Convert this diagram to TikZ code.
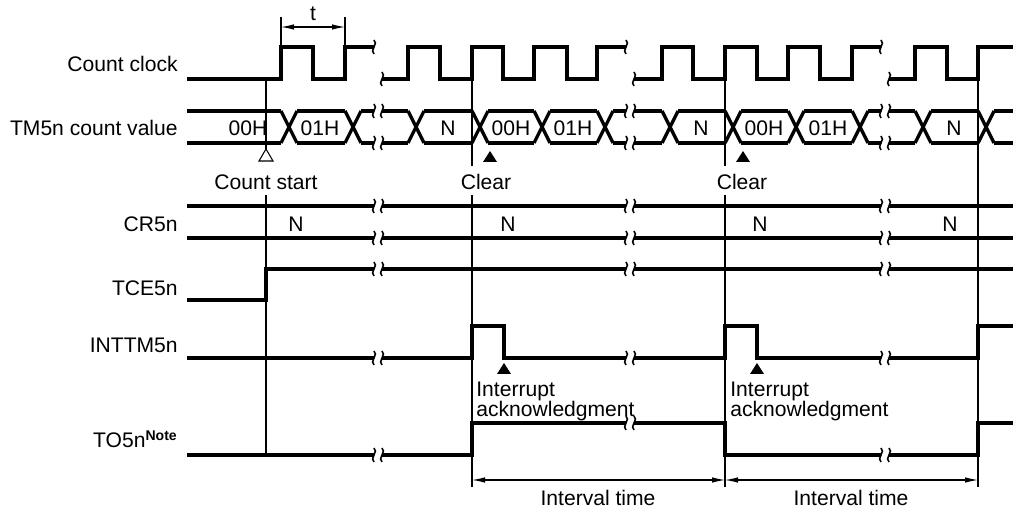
\documentclass[tikz,border=0pt]{standalone}
\usepackage{fontspec}
\setmainfont{Liberation Sans}
\usetikzlibrary{arrows.meta}
% small wavy break marks
\newcommand{\squig}[2]{\draw[wave] (#1,#2-7) .. controls (#1+5,#2-4) and (#1-5,#2+4) .. (#1,#2+7);}
\newcommand{\brk}[2]{\fill[white] (#1-4,#2-3) rectangle (#1+4,#2+3); \squig{#1-4}{#2} \squig{#1+4}{#2}}

\begin{document}
\begin{tikzpicture}[x=0.02cm,y=-0.02cm,>={Latex[length=2.6mm,width=1.1mm]},font=\fontsize{12}{14}\selectfont]
  \tikzstyle{sig}=[line width=1.9pt]
  \tikzstyle{guide}=[line width=0.6pt]
  \tikzstyle{wave}=[line width=0.9pt]
  \tikzstyle{lbl}=[anchor=base east,inner sep=0pt]
  \tikzstyle{val}=[inner sep=0pt]
  \tikzstyle{tri}=[line width=0.6pt,line join=miter]
  \useasboundingbox (0,0) rectangle (1013,519);
  % signal names
  \node[lbl] (clkname) at (178,72) {Count clock};
  \node[lbl] (tmname) at (178,136) {TM5n count value};
  \node[lbl] (crname) at (178,232) {CR5n};
  \node[lbl] (tcename) at (178,296) {TCE5n};
  \node[lbl] (intname) at (178,353) {INTTM5n};
  \node[lbl] (toname) at (178,448) {TO5n\textsuperscript{\bfseries Note}};
  % count clock
  \draw[sig] (187,79) -| (281,47) -| (313,79) -| (345,47) -- (374,47);
  \draw[sig] (382,79) -| (408,47) -| (440,79) -| (472,47) -| (503,79) -| (534,47) -| (567,79) -| (597,47) -- (626,47);
  \draw[sig] (634,79) -| (662,47) -| (693,79) -| (725,47) -| (757,79) -| (788,47) -| (820,79) -| (852,47) -- (881,47);
  \draw[sig] (889,79) -| (915,47) -| (947,79) -| (978,47) -- (1013,47);
  \squig{374}{47} \squig{382}{79}
  \squig{626}{47} \squig{634}{79}
  \squig{881}{47} \squig{889}{79}
  % TM5n count value
  \foreach \a/\b in {187/281,297/345,361/408,424/472,488/534,550/597,613/662,678/725,741/788,804/852,868/915,931/978,994/1013}
    {\draw[sig] (\a,111) -- (\b,111) (\a,143) -- (\b,143);}
  \foreach \c in {281,345,408,472,534,597,662,725,788,852,915,978}
    {\draw[sig] (\c,111) -- (\c+16,143) (\c,143) -- (\c+16,111);}
  \foreach \x/\v [count=\i] in {248/00H,320/01H,448/N,511/00H,573/01H,701/N,764/00H,828/01H,954/N}
    {\node[val] (tm\i) at (\x,128) {\v};}
  % CR5n
  \draw[sig] (187,206) -- (1013,206) (187,238) -- (1013,238);
  \foreach \x [count=\i] in {296,508,760,950} {\node[val] (cr\i) at (\x,224) {N};}
  % TCE5n
  \draw[sig] (187,300) -| (266,269) -- (1013,269);
  % INTTM5n
  \draw[sig] (187,358) -| (472,326) -| (504,358) -| (725,326) -| (757,358) -| (978,326) -- (1013,326);
  % TO5n
  \draw[sig] (187,455) -| (472,423) -| (725,455) -| (978,423) -- (1013,423);
  % breaks
  \foreach \x in {378,630,885} {\brk{\x}{111} \brk{\x}{143} \brk{\x}{206} \brk{\x}{238} \brk{\x}{269}}
  \foreach \x/\y in {378/358,630/358,885/358,378/455,630/423,885/455} {\brk{\x}{\y}}
  % guide lines
  \draw[guide] (266,79) -- (266,149) (266,195) -- (266,455);
  \foreach \x in {472,725} {\draw[guide] (\x,79) -- (\x,166) (\x,195) -- (\x,487);}
  \draw[guide] (978,79) -- (978,487);
  % t
  \draw[guide] (281,17) -- (281,47) (345,17) -- (345,47);
  \draw[guide,<->] (281,27) -- (345,27);
  \node[val] (tlbl) at (313,14) {t};
  % markers
  \draw[tri] (266,149) -- (259,161) -- (273,161) -- cycle;
  \foreach \x in {490,743} {\fill (\x,151) -- (\x-7,162) -- (\x+7,162) -- cycle;}
  \foreach \x in {504,757} {\fill (\x,363) -- (\x-7,374) -- (\x+7,374) -- cycle;}
  \node[val] (start) at (266,182) {Count start};
  \node[val] (clr1) at (486,182) {Clear};
  \node[val] (clr2) at (742,182) {Clear};
  \foreach \x [count=\i] in {476,730}
    {\node[anchor=base west,inner sep=0pt] (ackA\i) at (\x,397) {Interrupt};
     \node[anchor=base west,inner sep=0pt] (ackB\i) at (\x,417) {acknowledgment};}
  % interval time
  \draw[guide,<->] (472,480) -- (725,480);
  \draw[guide,<->] (725,480) -- (978,480);
  \node[val] (iv1) at (598,498) {Interval time};
  \node[val] (iv2) at (851,498) {Interval time};
\end{tikzpicture}
\end{document}
